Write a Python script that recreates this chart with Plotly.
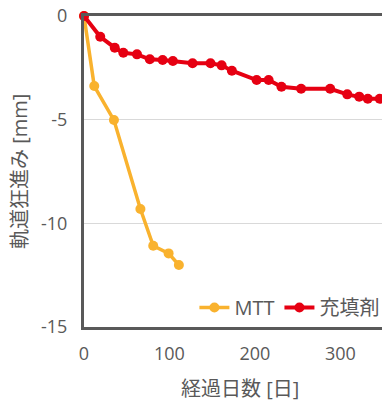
import plotly.graph_objects as go

mtt_days = [0, 12, 35, 66, 81, 99, 111]
mtt_vals = [0, -3.38, -5.02, -9.31, -11.08, -11.45, -12.01]

fill_days = [0, 19, 36, 46, 62, 77, 92, 104, 127, 148, 161, 173, 202, 216, 231, 254, 288, 308, 322, 332, 346, 356]
fill_vals = [0, -1.0, -1.53, -1.77, -1.85, -2.09, -2.12, -2.17, -2.28, -2.28, -2.38, -2.64, -3.09, -3.09, -3.41, -3.51, -3.51, -3.78, -3.89, -3.99, -3.99, -3.99]

x_ticks = [0, 100, 200, 300]
y_ticks = [0, -5, -10, -15]
y_tick_labels = ["0", "-5", "-10", "-15"]
x_title = "経過日数 [日]"
y_title = "軌道狂進み [mm]"

FONT = "Open Sans, Noto Sans CJK JP, sans-serif"
GREY = "#595959"

fig = go.Figure()
fig.add_trace(go.Scatter(
    x=mtt_days, y=mtt_vals, name="MTT", mode="lines+markers",
    line=dict(color="#F9B22E", width=3.5),
    marker=dict(color="#F9B22E", size=10),
    cliponaxis=False,
))
fig.add_trace(go.Scatter(
    x=fill_days, y=fill_vals, name="充填剤", mode="lines+markers",
    line=dict(color="#E60012", width=4),
    marker=dict(color="#E60012", size=10),
    cliponaxis=False,
))

fig.update_layout(
    width=382, height=395,
    margin=dict(l=76, r=0, t=8, b=76, autoexpand=False),
    plot_bgcolor="white", paper_bgcolor="white",
    font=dict(family=FONT, color=GREY, size=18),
    showlegend=True,
    legend=dict(
        orientation="h", x=0.985, xanchor="right", y=0.0, yanchor="bottom",
        bgcolor="rgba(0,0,0,0)", font=dict(size=20, color=GREY),
        itemwidth=30, tracegroupgap=0,
    ),
    annotations=[
        dict(text=x_title, xref="paper", yref="paper", x=0.51, y=-0.197,
             xanchor="center", yanchor="middle", showarrow=False,
             font=dict(size=20, color=GREY)),
        dict(text=y_title, xref="paper", yref="paper", x=-0.211, y=0.5,
             xanchor="center", yanchor="middle", showarrow=False, textangle=-90,
             font=dict(size=20, color=GREY)),
    ],
)
fig.update_xaxes(
    range=[0, 358], tickvals=x_ticks,
    showline=True, linecolor=GREY, linewidth=3, mirror=True,
    showgrid=False, zeroline=False, automargin=False,
    ticks="outside", ticklen=8, tickcolor="rgba(0,0,0,0)",
    tickfont=dict(size=18, color=GREY),
    ticklabeloverflow="allow",
)
fig.update_yaxes(
    range=[-15, 0], tickvals=y_ticks, ticktext=y_tick_labels,
    showline=True, linecolor=GREY, linewidth=3, mirror=False,
    showgrid=True, gridcolor="#D9D9D9", gridwidth=1, zeroline=False, automargin=False,
    ticks="outside", ticklen=10, tickcolor="rgba(0,0,0,0)",
    tickfont=dict(size=18, color=GREY),
    ticklabeloverflow="allow",
)

fig.write_html("out.html")
